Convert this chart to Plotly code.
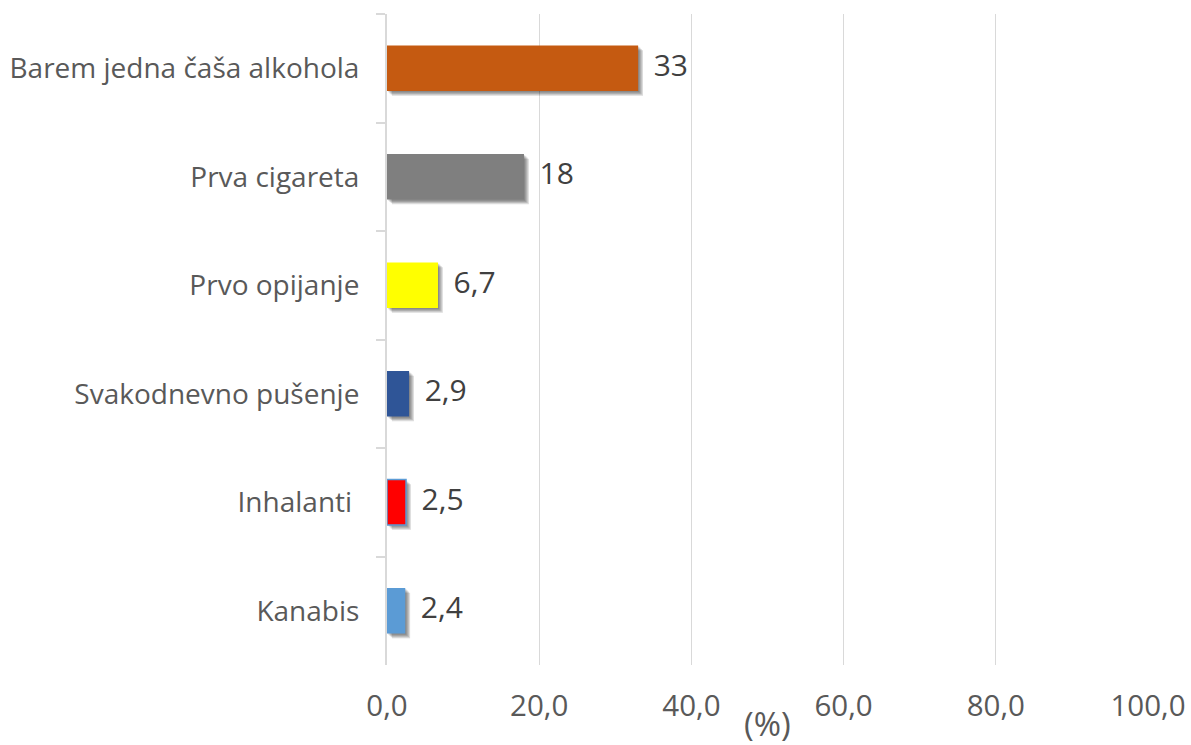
import plotly.graph_objects as go

# Share of respondents (%), listed top to bottom
categories = [
    "Barem jedna čaša alkohola",
    "Prva cigareta",
    "Prvo opijanje",
    "Svakodnevno pušenje",
    "Inhalanti\u00a0",
    "Kanabis",
]
values = [33, 18, 6.7, 2.9, 2.5, 2.4]
bar_colors = ["#C55A11", "#7F7F7F", "#FFFF00", "#2F5597", "#FF0000", "#5B9BD5"]
outline_colors = ["#C55A11", "#7F7F7F", "#FFFF00", "#2F5597", "#5B9BD5", "#5B9BD5"]
outline_widths = [0, 0, 0, 0, 1.5, 0]
x_ticks = [0, 20, 40, 60, 80, 100]

BAR_W = 0.42
labels = [f"{v:g}".replace(".", ",") for v in values]

fig = go.Figure()

# soft drop shadow: a few translucent copies nudged right and down
for k in (1, 2, 3, 4):
    fig.add_trace(go.Bar(
        y=categories, x=values, base=0.16 * k, orientation="h",
        width=BAR_W, offset=-BAR_W / 2 + 0.011 * k,
        marker=dict(color="rgba(0,0,0,0.14)", line=dict(width=0)),
        hoverinfo="skip", showlegend=False,
    ))

fig.add_trace(go.Bar(
    y=categories, x=values, orientation="h",
    width=BAR_W, offset=-BAR_W / 2,
    marker=dict(color=bar_colors, line=dict(color=outline_colors, width=outline_widths)),
    showlegend=False,
))

# value labels to the right of each bar
fig.add_trace(go.Scatter(
    y=categories, x=values, mode="text", text=["  " + t for t in labels],
    textposition="middle right",
    textfont=dict(family="Open Sans", size=30, color="#404040"),
    cliponaxis=False, showlegend=False, hoverinfo="skip",
))

fig.add_annotation(
    text="(%)", xref="x", x=50, yref="paper", y=0, yshift=-58,
    xanchor="center", yanchor="middle", showarrow=False,
    font=dict(family="Open Sans", size=33, color="#595959"),
)

fig.update_layout(
    width=1191, height=745,
    margin=dict(l=387, r=43, t=14, b=80),
    barmode="overlay",
    paper_bgcolor="white", plot_bgcolor="white",
    separators=", ",
    font=dict(family="Open Sans", color="#595959"),
    xaxis=dict(
        range=[0, 100], tickvals=x_ticks, tickformat=".1f",
        showgrid=True, gridcolor="#D9D9D9", gridwidth=1.3,
        zeroline=False, showline=False, ticks="",
        tickfont=dict(size=29.5, color="#595959"),
        ticklabelstandoff=20, automargin=False,
    ),
    yaxis=dict(
        autorange="reversed", type="category",
        showline=True, linecolor="#D9D9D9", linewidth=2,
        ticks="outside", tickson="boundaries", ticklen=9,
        tickcolor="#D9D9D9", tickwidth=2,
        showgrid=False, zeroline=False,
        tickfont=dict(size=28, color="#595959"),
        ticklabelstandoff=20, automargin=False,
    ),
)

fig.write_html("out.html")
